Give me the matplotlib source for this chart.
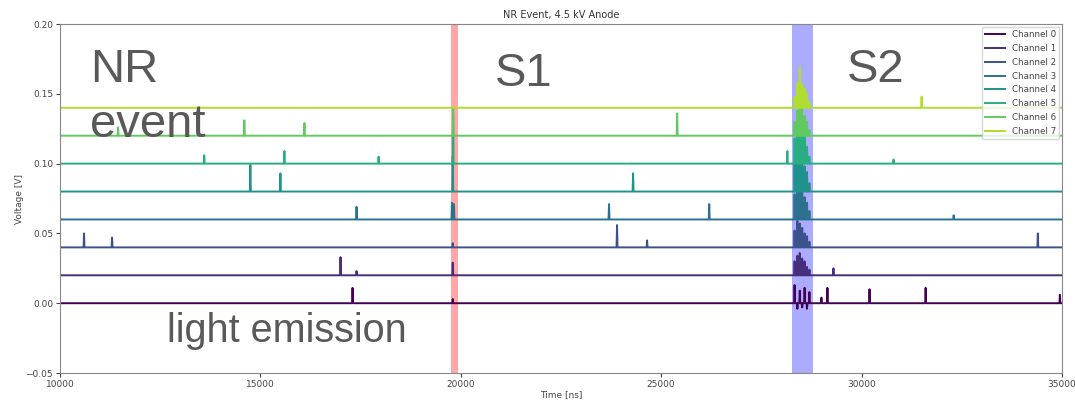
import matplotlib.pyplot as plt
import numpy as np

plt.rcParams["font.family"] = ["DejaVu Sans"]

T_START, T_END = 10000, 35000
channels = [f"Channel {i}" for i in range(8)]
baselines = [0.00, 0.02, 0.04, 0.06, 0.08, 0.10, 0.12, 0.14]

# isolated pulses: (time [ns], height above baseline [V])
pulses = {
    0: [(17300, 0.011), (19800, 0.003), (29000, 0.004), (29150, 0.011),
        (30200, 0.010), (31600, 0.011), (34950, 0.006)],
    1: [(17000, 0.013), (17400, 0.003), (19800, 0.009), (29300, 0.005)],
    2: [(10600, 0.010), (11300, 0.007), (19800, 0.003), (23900, 0.016),
        (24650, 0.005), (34400, 0.010)],
    3: [(17400, 0.009), (19780, 0.012), (19830, 0.011), (23700, 0.011),
        (26200, 0.011), (32300, 0.003)],
    4: [(14750, 0.019), (15500, 0.013), (19800, 0.025), (24300, 0.013)],
    5: [(13600, 0.006), (15600, 0.009), (17950, 0.005), (19810, 0.035),
        (28150, 0.009), (30800, 0.003)],
    6: [(11450, 0.006), (14600, 0.011), (16100, 0.009), (19810, 0.020),
        (25400, 0.016)],
    7: [(31500, 0.008)],
}

# S2 burst inside the blue window, same times for every channel
burst_times = [28330, 28400, 28460, 28520, 28580, 28640, 28700]
burst_amps = {
    0: [0.013, -0.004, 0.009, -0.003, 0.011, -0.004, 0.008],
    1: [0.010, 0.014, 0.016, 0.012, 0.010, 0.006, 0.004],
    2: [0.012, 0.019, 0.017, 0.014, 0.010, 0.008, 0.004],
    3: [0.018, 0.026, 0.030, 0.022, 0.016, 0.012, 0.006],
    4: [0.020, 0.030, 0.034, 0.026, 0.018, 0.014, 0.006],
    5: [0.018, 0.028, 0.032, 0.030, 0.020, 0.012, 0.005],
    6: [0.010, 0.018, 0.024, 0.020, 0.014, 0.010, 0.004],
    7: [0.008, 0.018, 0.029, 0.017, 0.014, 0.010, 0.004],
}

S1_WINDOW = (19750, 19930)
S2_WINDOW = (28260, 28790)


def build_trace(base, events, half_width=12):
    events = sorted(events)
    t = [T_START]
    v = [base]
    for tc, amp in events:
        t += [tc - half_width, tc, tc + half_width]
        v += [base, base + amp, base]
    t.append(T_END)
    v.append(base)
    return np.array(t), np.array(v)


fig = plt.figure(figsize=(10.75, 4.03), dpi=100)
ax = fig.add_axes([0.0558, 0.0744, 0.932, 0.866])

colors = plt.cm.viridis(np.linspace(0, 0.88, 8))
for i, name in enumerate(channels):
    events = pulses[i] + list(zip(burst_times, burst_amps[i]))
    t, v = build_trace(baselines[i], events)
    ax.plot(t, v, color=colors[i], lw=1.4, label=name)

ax.axvspan(*S1_WINDOW, color="red", alpha=0.35, lw=0)
ax.axvspan(*S2_WINDOW, color="blue", alpha=0.33, lw=0)

ax.set_xlim(T_START, T_END)
ax.set_ylim(-0.05, 0.20)
ax.set_xticks([10000, 15000, 20000, 25000, 30000, 35000])
ax.set_yticks([-0.05, 0.00, 0.05, 0.10, 0.15, 0.20])
ax.tick_params(labelsize=6.5, colors="#444444", length=3, pad=2)
for s in ax.spines.values():
    s.set_color("#888888")
ax.set_xlabel("Time [ns]", fontsize=6.5, color="#444444", labelpad=1)
ax.set_ylabel("Voltage [V]", fontsize=6.5, color="#444444", labelpad=1)
ax.set_title("NR Event, 4.5 kV Anode", fontsize=7, color="#333333", pad=4)

leg = ax.legend(loc="upper right", fontsize=6.3, handlelength=2.2,
                labelspacing=0.55, borderaxespad=0.3, framealpha=0.8)
for txt in leg.get_texts():
    txt.set_color("#444444")

note_kw = dict(family="Liberation Sans", color="#595959")
ax.text(0.030, 0.93, "NR\nevent", transform=ax.transAxes, fontsize=34,
        va="top", ha="left", linespacing=1.3, **note_kw)
ax.text(0.434, 0.92, "S1", transform=ax.transAxes, fontsize=34,
        va="top", ha="left", **note_kw)
ax.text(0.785, 0.93, "S2", transform=ax.transAxes, fontsize=34,
        va="top", ha="left", **note_kw)
ax.text(0.107, 0.066, "light emission", transform=ax.transAxes, fontsize=28.5,
        va="bottom", ha="left", **note_kw)

fig.savefig("out.png", dpi=100)
